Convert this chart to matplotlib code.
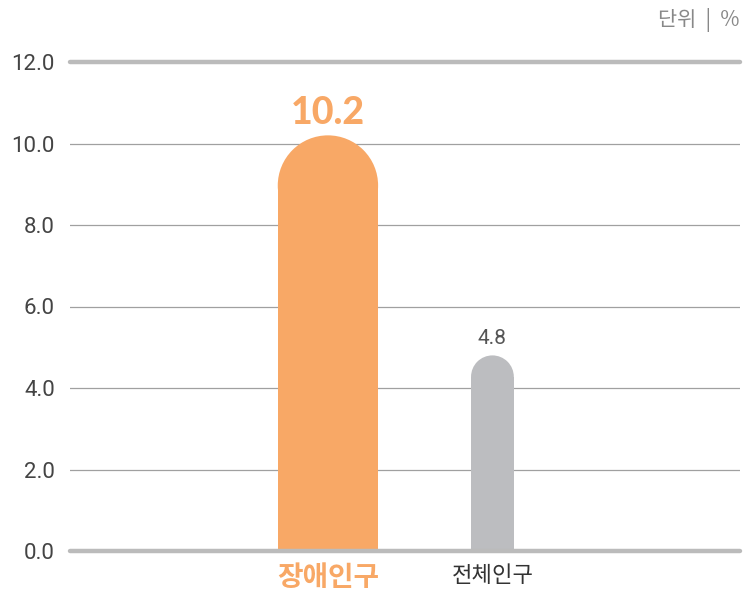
import matplotlib
matplotlib.use("Agg")
import matplotlib.pyplot as plt
from matplotlib.patches import Rectangle, Ellipse

plt.rcParams["font.family"] = ["Noto Sans CJK KR", "DejaVu Sans"]

categories = ["장애인구", "전체인구"]
values = [10.2, 4.8]
bar_widths = [0.61, 0.26]
bar_colors = ["#F8A866", "#BCBDC0"]
yticks = [0, 2, 4, 6, 8, 10, 12]

W, H = 755, 592
fig = plt.figure(figsize=(W / 100, H / 100), dpi=100)
ax = fig.add_axes([70 / W, 41 / H, 670 / W, 489 / H])
ax.set_xlim(-1.568, 2.505)
ax.set_ylim(0, 12)

# grid lines
for t in yticks:
    if t in (0, 12):
        ax.axhline(t, color="#BBBBBB", lw=3.2, solid_capstyle="round",
                   zorder=3 if t == 0 else 1, clip_on=False)
    else:
        ax.axhline(t, color="#A0A0A0", lw=0.9, zorder=1)

# rounded-top bars
px_per_x = 670 / (2.505 + 1.568)
px_per_y = 489 / 12
for i, (v, w, c) in enumerate(zip(values, bar_widths, bar_colors)):
    r_y = (w * px_per_x / 2) / px_per_y
    ax.add_patch(Rectangle((i - w / 2, 0), w, v - r_y, color=c, lw=0, zorder=2))
    ax.add_patch(Ellipse((i, v - r_y), w, 2 * r_y, color=c, lw=0, zorder=2))

ax.text(0, values[0] + 0.55, f"{values[0]:.1f}", ha="center", va="center",
        fontsize=27, fontweight="black", color="#F8A866", family=["Lato", "DejaVu Sans"])
ax.text(1, values[1] + 0.42, f"{values[1]:.1f}", ha="center", va="center",
        fontsize=15, color="#555555", family=["Roboto", "DejaVu Sans"])

ax.set_xticks([0, 1])
ax.set_xticklabels(categories)
lbls = ax.get_xticklabels()
lbls[0].set_fontsize(20)
lbls[0].set_fontweight("heavy")
lbls[0].set_color("#F8A866")
lbls[1].set_fontsize(16)
lbls[1].set_color("#333333")

ax.set_yticks(yticks)
ax.set_yticklabels([f"{t:.1f}" for t in yticks], fontsize=16, color="#444444",
                   family=["Roboto", "DejaVu Sans"])
ax.tick_params(length=0)
ax.tick_params(axis="y", pad=11)
ax.tick_params(axis="x", pad=9)
for s in ax.spines.values():
    s.set_visible(False)

fig.text(740 / W, 1 - 20 / H, "단위  |  %", ha="right", va="center", fontsize=15, color="#888888")

fig.savefig("out.png", dpi=100)
